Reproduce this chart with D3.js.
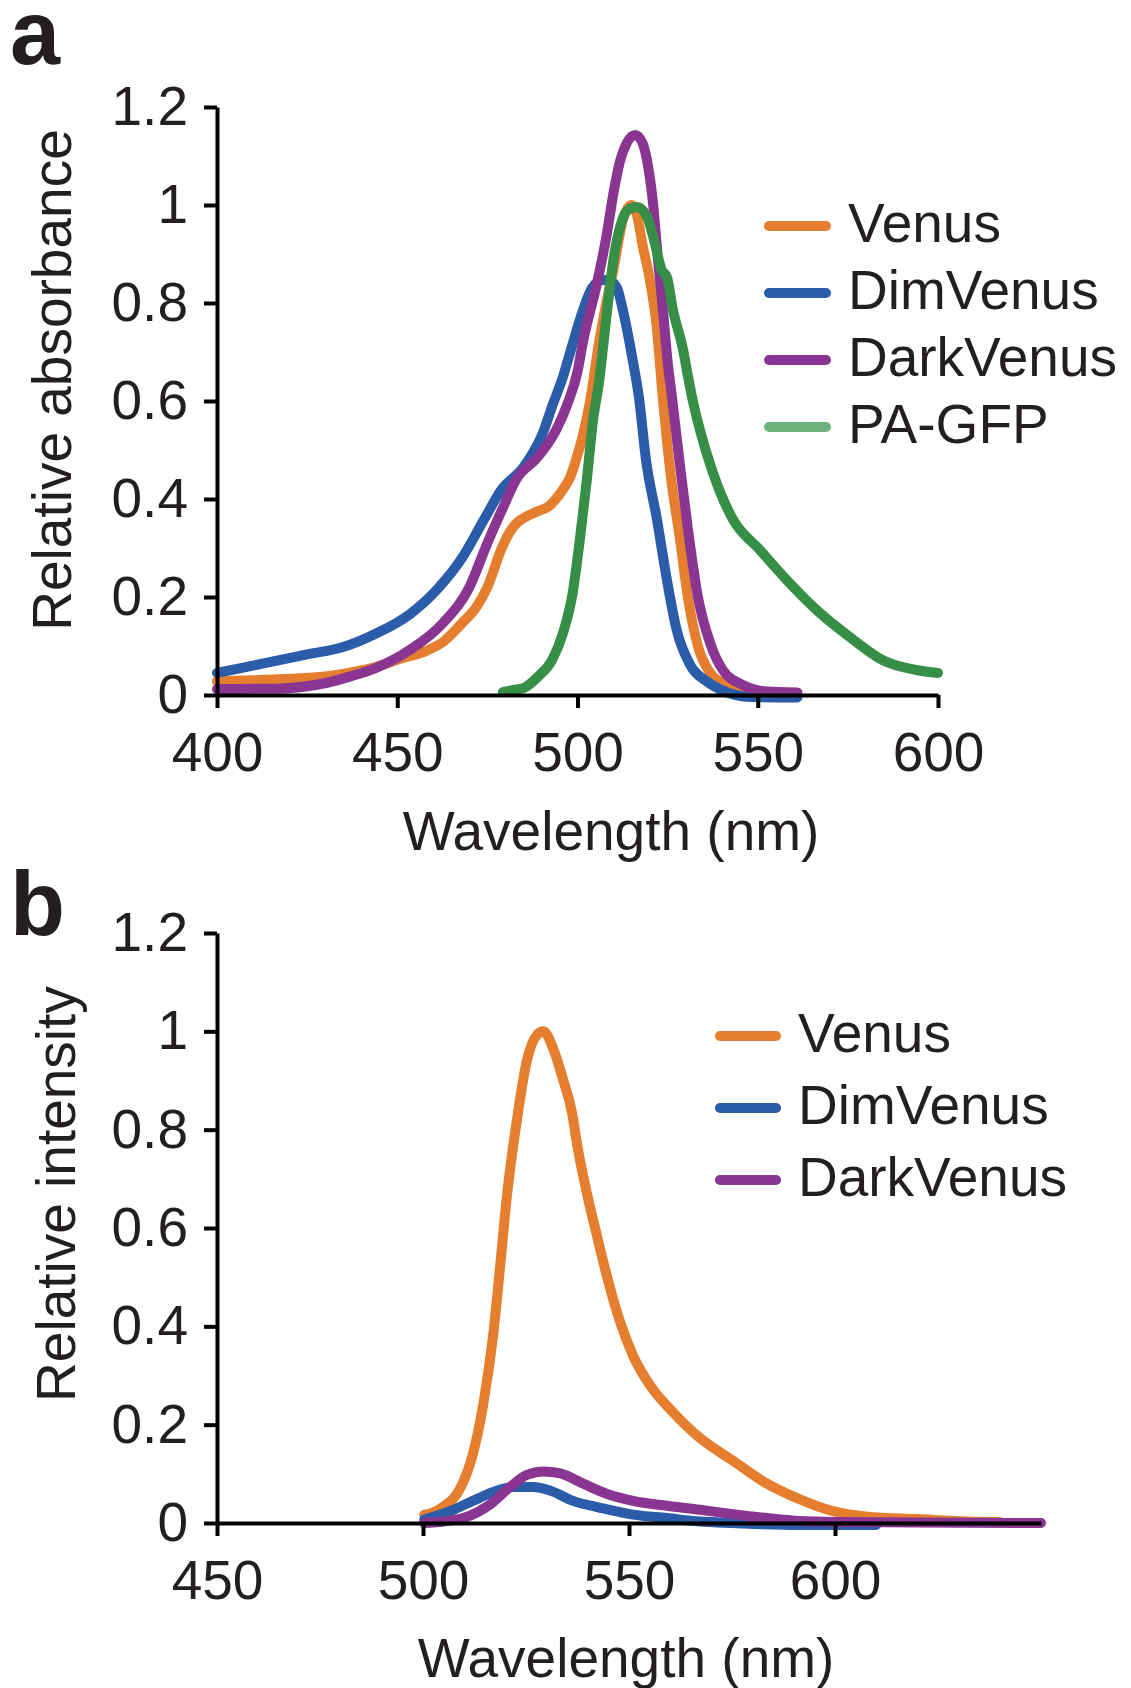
<!DOCTYPE html>
<html>
<head>
<meta charset="utf-8">
<script src="https://cdn.jsdelivr.net/npm/d3@7"></script>
<style>
  body { margin: 0; background: #fff; }
  svg { display: block; }
</style>
</head>
<body>
<svg id="chart"></svg>
<script>
// Absorbance spectra (panel a): [wavelength nm, relative absorbance]
const venusAbs = [[400,0.028],[410,0.03],[420,0.033],[430,0.038],[435,0.043],[440,0.05],[444,0.057],[450,0.072],[458,0.09],[463,0.11],[468,0.147],[472,0.18],[475,0.22],[479,0.3],[481,0.33],[483,0.35],[486,0.365],[489,0.375],[492,0.385],[494,0.4],[496,0.42],[498,0.445],[500,0.49],[501.5,0.53],[503.5,0.6],[506,0.72],[508,0.8],[510,0.87],[512.6,0.97],[515,1.0],[516.5,0.98],[518,0.92],[520,0.85],[522,0.75],[523.5,0.62],[526,0.44],[528.4,0.32],[530.6,0.2],[533.4,0.1],[536.8,0.045],[541.5,0.02],[546,0.01],[551,0.006],[556,0.005]]
const dimAbs = [[400,0.045],[408,0.057],[416.6,0.07],[425,0.083],[435,0.098],[444,0.125],[453.5,0.165],[461,0.215],[468,0.28],[474,0.357],[479,0.42],[485,0.465],[490.4,0.535],[493,0.59],[496,0.65],[498,0.7],[501.5,0.785],[504,0.83],[507,0.847],[509,0.845],[511,0.83],[512.6,0.785],[515.4,0.68],[517,0.61],[519,0.48],[522,0.36],[524.8,0.235],[527.6,0.13],[531,0.065],[536,0.027],[540,0.01],[548,-0.004],[561,-0.005]]
const darkAbs = [[400,0.012],[416.6,0.013],[430.5,0.025],[437,0.038],[444,0.055],[453.5,0.092],[462.7,0.147],[470,0.22],[475,0.31],[479,0.377],[483,0.44],[489,0.486],[494,0.54],[497,0.59],[500,0.66],[501.5,0.72],[505.4,0.84],[508,0.935],[510,1.025],[511.8,1.09],[513.7,1.127],[516,1.143],[518,1.127],[519.6,1.078],[521,1.0],[522.3,0.89],[523.7,0.785],[525,0.68],[526,0.62],[528.4,0.47],[530.6,0.34],[533.4,0.2],[536.8,0.106],[540.4,0.05],[546,0.02],[552.5,0.007],[561,0.005]]
const paAbs = [[479.3,0.006],[482,0.01],[485,0.014],[489,0.037],[493,0.072],[496,0.127],[498.7,0.21],[500.7,0.32],[502.6,0.44],[504.3,0.56],[506,0.64],[508,0.77],[510,0.89],[511.8,0.955],[514,0.99],[516.5,0.996],[519.3,0.976],[521,0.935],[523.4,0.867],[524.8,0.853],[526.5,0.785],[529.3,0.704],[530.4,0.66],[532,0.6],[534,0.54],[537.6,0.453],[543,0.36],[550.6,0.296],[558,0.235],[566.4,0.173],[575.6,0.118],[584.7,0.071],[594,0.051],[600,0.045]]

// Emission spectra (panel b): [wavelength nm, relative intensity]
const venusEm = [[500.3,0.017],[502,0.02],[504.9,0.033],[509,0.07],[512.1,0.14],[514.6,0.24],[517,0.38],[518.7,0.52],[520.3,0.66],[522.8,0.82],[525.2,0.94],[527.7,0.993],[529.2,1.0],[531.6,0.965],[534,0.902],[536.2,0.833],[537.4,0.77],[539.8,0.67],[542.2,0.585],[544.7,0.5],[547.8,0.41],[551,0.34],[555.1,0.28],[560.7,0.225],[567.2,0.173],[575.2,0.127],[583.5,0.08],[591.5,0.048],[599.5,0.024],[607.8,0.013],[620,0.008],[632,0.003],[640,0.002]]
const dimEm = [[500.3,0.007],[506.6,0.024],[512.1,0.045],[518,0.066],[521.8,0.073],[526.7,0.073],[530.8,0.066],[536.4,0.045],[543,0.031],[551,0.017],[559.2,0.01],[567.2,0.003],[575.2,0],[591.5,-0.004],[610,-0.004]]
const darkEm = [[500.3,0],[505,0.003],[509.8,0.01],[516.3,0.038],[521.1,0.073],[525.2,0.098],[529.2,0.105],[533.3,0.101],[538.9,0.08],[544.7,0.059],[551,0.045],[559.2,0.035],[567.2,0.027],[575.2,0.018],[583.5,0.01],[591.5,0.004],[600,0.002],[620,0.001],[650,0]]

const absNames = ['Venus', 'DimVenus', 'DarkVenus', 'PA-GFP']
const emNames = ['Venus', 'DimVenus', 'DarkVenus']
const yTicks = [0, 0.2, 0.4, 0.6, 0.8, 1, 1.2]
const absXTicks = [400, 450, 500, 550, 600]
const emXTicks = [450, 500, 550, 600]

const colors = {
    'Venus': '#e57f2f',
    'DimVenus': '#2b5ca9',
    'DarkVenus': '#893591',
    'PA-GFP': '#378f47'
}
const legendColors = Object.assign({}, colors, {'PA-GFP': '#6db27d'})

const W = 1131, H = 1688
const FONT = '"Liberation Sans", Arial, Helvetica, sans-serif'
const TXT = '#231f20'
const svg = d3.select('#chart').attr('width', W).attr('height', H)

const drawPanel = (cfg) => {
    const xScale = d3.scaleLinear().domain(cfg.xDomain).range(cfg.xRange)
    const yScale = d3.scaleLinear().domain([0, 1.2]).range(cfg.yRange)

    const line = d3.line()
        .curve(d3.curveMonotoneX)
        .x(d => xScale(d[0]))
        .y(d => yScale(d[1]))

    // curves
    cfg.series.forEach(s => {
        svg.append('path')
            .datum(s.values)
            .attr('d', line)
            .attr('fill', 'none')
            .attr('stroke', colors[s.name])
            .attr('stroke-width', 10)
            .attr('stroke-linejoin', 'round')
            .attr('stroke-linecap', 'round')
    })

    // axes
    const xAxis = d3.axisBottom(xScale)
        .tickValues(cfg.xTicks)
        .tickFormat(d3.format('d'))
        .tickSize(13)
        .tickSizeOuter(0)
        .tickPadding(24)
    const yAxis = d3.axisLeft(yScale)
        .tickValues(yTicks)
        .tickFormat(d => String(d))
        .tickSize(13)
        .tickSizeOuter(0)
        .tickPadding(16)

    const gx = svg.append('g')
        .attr('transform', 'translate(0,' + cfg.yRange[0] + ')')
        .call(xAxis)
    const gy = svg.append('g')
        .attr('transform', 'translate(' + cfg.xRange[0] + ',0)')
        .call(yAxis)

    ;[gx, gy].forEach(g => {
        g.attr('font-family', FONT).attr('font-size', 55)
        g.select('.domain').attr('stroke', '#000').attr('stroke-width', 4)
        g.selectAll('.tick line').attr('stroke', '#000').attr('stroke-width', 4)
        g.selectAll('.tick text').attr('fill', TXT)
    })

    // axis titles
    svg.append('text')
        .attr('x', cfg.xTitlePos[0]).attr('y', cfg.xTitlePos[1])
        .attr('text-anchor', 'middle')
        .attr('font-family', FONT).attr('font-size', 55).attr('fill', TXT)
        .text('Wavelength (nm)')
    svg.append('text')
        .attr('transform', 'translate(' + cfg.yTitlePos[0] + ',' + cfg.yTitlePos[1] + ') rotate(-90)')
        .attr('text-anchor', 'middle')
        .attr('font-family', FONT).attr('font-size', 55).attr('fill', TXT)
        .text(cfg.yTitle)

    // panel letter
    svg.append('text')
        .attr('x', cfg.letterPos[0]).attr('y', cfg.letterPos[1])
        .attr('font-family', FONT).attr('font-size', 90).attr('font-weight', 'bold').attr('fill', TXT)
        .text(cfg.letter)

    // legend
    const lg = svg.append('g')
    cfg.legendNames.forEach((name, i) => {
        const y = cfg.legend.y + i * cfg.legend.step
        lg.append('line')
            .attr('x1', cfg.legend.x1).attr('x2', cfg.legend.x2)
            .attr('y1', y).attr('y2', y)
            .attr('stroke', legendColors[name])
            .attr('stroke-width', 10)
            .attr('stroke-linecap', 'round')
        lg.append('text')
            .attr('x', cfg.legend.tx).attr('y', y + 16)
            .attr('font-family', FONT).attr('font-size', 55).attr('fill', TXT)
            .text(name)
    })
}

drawPanel({
    letter: 'a',
    letterPos: [10, 64],
    xDomain: [400, 600],
    xRange: [217, 938],
    yRange: [695, 107],
    xTicks: absXTicks,
    yTitle: 'Relative absorbance',
    xTitlePos: [611, 850],
    yTitlePos: [71, 380],
    series: [
        {name: 'Venus', values: venusAbs},
        {name: 'DimVenus', values: dimAbs},
        {name: 'DarkVenus', values: darkAbs},
        {name: 'PA-GFP', values: paAbs}
    ],
    legendNames: absNames,
    legend: {x1: 769, x2: 826, tx: 848, y: 226, step: 67}
})

drawPanel({
    letter: 'b',
    letterPos: [10, 935],
    xDomain: [450, 650],
    xRange: [217, 1041],
    yRange: [1523, 933],
    xTicks: emXTicks,
    yTitle: 'Relative intensity',
    xTitlePos: [626, 1677],
    yTitlePos: [75, 1194],
    series: [
        {name: 'Venus', values: venusEm},
        {name: 'DimVenus', values: dimEm},
        {name: 'DarkVenus', values: darkEm}
    ],
    legendNames: emNames,
    legend: {x1: 720, x2: 776, tx: 798, y: 1036, step: 72}
})
</script>
</body>
</html>
